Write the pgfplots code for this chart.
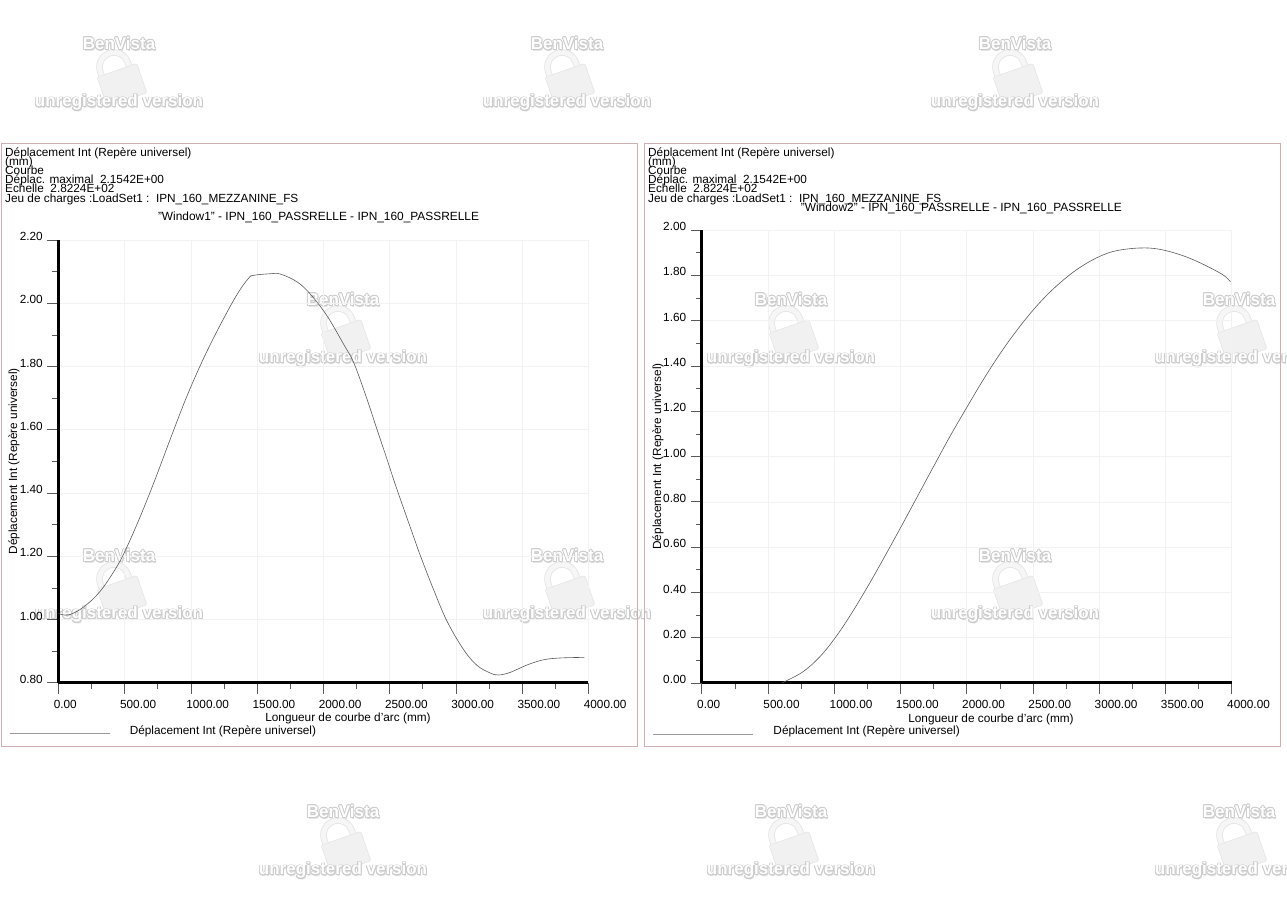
\documentclass[border=0pt]{standalone}
\usepackage{fontspec}
\setmainfont{Liberation Sans}
\usepackage{pgfplots}
\pgfplotsset{compat=1.18}
\usepackage{pgfplotstable}
\usepackage[copies]{contour}
\contourlength{0.8pt}
\contournumber{16}
\definecolor{panel}{RGB}{205,175,180}
\definecolor{curve}{RGB}{90,90,90}

% Window1, values
\pgfplotstableread{
x y
2 1.0186
78 1.0144
191 1.0393
317 1.0897
443 1.1678
518 1.2293
606 1.3129
694 1.4035
770 1.4863
845 1.5703
971 1.7064
1097 1.8261
1223 1.9319
1349 2.0277
1436 2.0790
1474 2.0882
1600 2.0932
1675 2.0923
1801 2.0679
1902 2.0289
2028 1.9602
2153 1.8706
2229 1.8126
2317 1.7122
2405 1.6013
2481 1.5063
2556 1.4113
2687 1.2552
2732 1.2023
2832 1.0946
2934 0.9942
3059 0.9045
3160 0.8548
3260 0.8307
3323 0.8244
3411 0.8326
3537 0.8560
3663 0.8725
3789 0.8782
3970 0.8801
}\windowone

% Window2
\pgfplotstableread{
x y
604 0
626 0.0060
765 0.0500
891 0.1155
1004 0.1969
1117 0.2945
1243 0.4160
1343 0.5185
1444 0.6250
1545 0.7335
1645 0.8420
1758 0.9645
1872 1.0870
1998 1.2140
2123 1.3370
2249 1.4515
2375 1.5545
2500 1.6455
2626 1.7245
2762 1.7950
2878 1.8435
3004 1.8835
3130 1.9085
3306 1.9205
3456 1.9148
3632 1.8866
3783 1.8490
3934 1.8020
3990 1.7718
}\windowtwo

\pgfplotsset{
  panelaxis/.style={
    scale only axis,
    anchor=south west,
    width=530pt,
    axis x line=bottom,
    axis y line=left,
    axis line style={line width=3pt,-,black},
    xmin=0, xmax=4000,
    xtick distance=500,
    minor tick num=1,
    major tick length=11pt,
    minor tick length=6pt,
    tick align=outside,
    tick style={curve,line width=0.6pt},
    grid=major,
    major grid style={black!5,line width=0.5pt},
    font=\fontsize{11.8}{12}\selectfont,
    /pgf/number format/.cd,fixed,fixed zerofill,precision=2,1000 sep={},assume math mode=true,
    /pgfplots/.cd,
    scaled ticks=false,
    x tick label style={anchor=north west,xshift=-8pt,yshift=-3pt},
    y tick label style={anchor=east,xshift=-1pt,yshift=3.4pt},
    title style={font=\fontsize{11.9}{12}\selectfont},
    legend image code/.code={\draw[gray!80,line width=0.6pt] (0,-3pt) -- (100pt,-3pt);},
    legend style={draw=none,fill=none,inner sep=0pt,font=\fontsize{11.8}{12}\selectfont,
      nodes={inner xsep=20pt,inner ysep=0pt}},
    legend cell align=left,
    xlabel={Longueur de courbe d'arc (mm)},
    ylabel={Déplacement Int (Repère universel)},
  },
}

\newcommand{\header}[1]{%
  \draw[panel,line width=0.8pt] (#1+1,910-143) rectangle (#1+637,910-746);
  \begin{scope}[every node/.style={anchor=base west,inner sep=0pt,font=\fontsize{11.8}{12}\selectfont}]
    \node at (#1+5,910-156.5) {Déplacement Int (Repère universel)};
    \node at (#1+5,910-165.5) {(mm)};
    \node at (#1+5,910-174.5) {Courbe};
    \node at (#1+5,910-183.7) {Déplac. maximal\ \ 2.1542E+00};
    \node at (#1+5,910-192.7) {Echelle\ \ 2.8224E+02};
    \node at (#1+5,910-202.7) {Jeu de charges :LoadSet1 :\ \ IPN\_160\_MEZZANINE\_FS};
  \end{scope}
}

\newcommand{\wm}[2]{%
  \begin{scope}[shift={(#1,910-#2)}]
    \begin{scope}[shift={(-5,-24)},rotate=18]
      \draw[gray!22,line width=6.5pt] (-14.5,-12) -- (-14.5,0) arc[start angle=180,end angle=0,radius=14.5] -- (14.5,-12);
      \draw[gray!7,line width=5pt] (-14.5,-12) -- (-14.5,0) arc[start angle=180,end angle=0,radius=14.5] -- (14.5,-12);
    \end{scope}
    \filldraw[fill=gray!11,draw=gray!20,line width=0.6pt,rounded corners=2pt,rotate around={19:(3,-42)}] (-18,-57.5) rectangle (24,-26.5);
    \node[inner sep=0pt,font=\fontsize{17}{17}\selectfont\bfseries] at (1,-2) {\textcolor{gray!22}{BenVista}};
    \node[inner sep=0pt,font=\fontsize{17}{17}\selectfont\bfseries] at (0,-1) {\contour{gray!40}{\textcolor{white}{BenVista}}};
    \node[inner sep=0pt,font=\fontsize{17}{17}\selectfont\bfseries] at (1,-61) {\textcolor{gray!22}{unregistered version}};
    \node[inner sep=0pt,font=\fontsize{17}{17}\selectfont\bfseries] at (0,-60) {\contour{gray!40}{\textcolor{white}{unregistered version}}};
  \end{scope}
}

\begin{document}
\begin{tikzpicture}[x=1pt,y=1pt]
  \useasboundingbox (0,0) rectangle (1287,910);

  % watermark of the screenshot tool, under the chart so curve and labels stay readable
  \begin{scope}
    \clip (0,0) rectangle (1287,910);
    \foreach \cx/\cy in {119/43,567/43,1015/43,343/299,791/299,1239/299,119/555,567/555,1015/555,343/811,791/811,1239/811}
      {\wm{\cx}{\cy}}
  \end{scope}

  \header{0}
  \header{643}

  \begin{axis}[
      panelaxis,
      at={(58.3pt,227.3pt)},
      height=442.7pt,
      ymin=0.8, ymax=2.2,
      ytick distance=0.2,
      title={"Window1" - IPN\_160\_PASSRELLE - IPN\_160\_PASSRELLE},
      title style={at={(axis description cs:0.491,1.038)},anchor=center,inner sep=0pt},
      xlabel style={at={(axis description cs:0.5466,-0.0813)},anchor=center,inner sep=0pt},
      ylabel style={at={(axis description cs:-0.0837,0.5000)},anchor=center,inner sep=0pt},
      legend style={at={(axis description cs:-0.0930,-0.1085)},anchor=west},
    ]
    \addplot[curve,line width=0.6pt,smooth,tension=0.6] table[x=x,y=y] {\windowone};
    \addlegendentry{Déplacement Int (Repère universel)}
  \end{axis}

  \begin{axis}[
      panelaxis,
      at={(701.7pt,227pt)},
      height=453pt,
      ymin=0, ymax=2,
      ytick distance=0.2,
      title={"Window2" - IPN\_160\_PASSRELLE - IPN\_160\_PASSRELLE},
      title style={at={(axis description cs:0.490,1.0355)},anchor=center,inner sep=0pt},
      xlabel style={at={(axis description cs:0.5458,-0.0795)},anchor=center,inner sep=0pt},
      ylabel style={at={(axis description cs:-0.0825,0.500)},anchor=center,inner sep=0pt},
      legend style={at={(axis description cs:-0.0925,-0.106)},anchor=west},
    ]
    \addplot[curve,line width=0.6pt,smooth,tension=0.6] table[x=x,y=y] {\windowtwo};
    \addlegendentry{Déplacement Int (Repère universel)}
  \end{axis}
\end{tikzpicture}
\end{document}
